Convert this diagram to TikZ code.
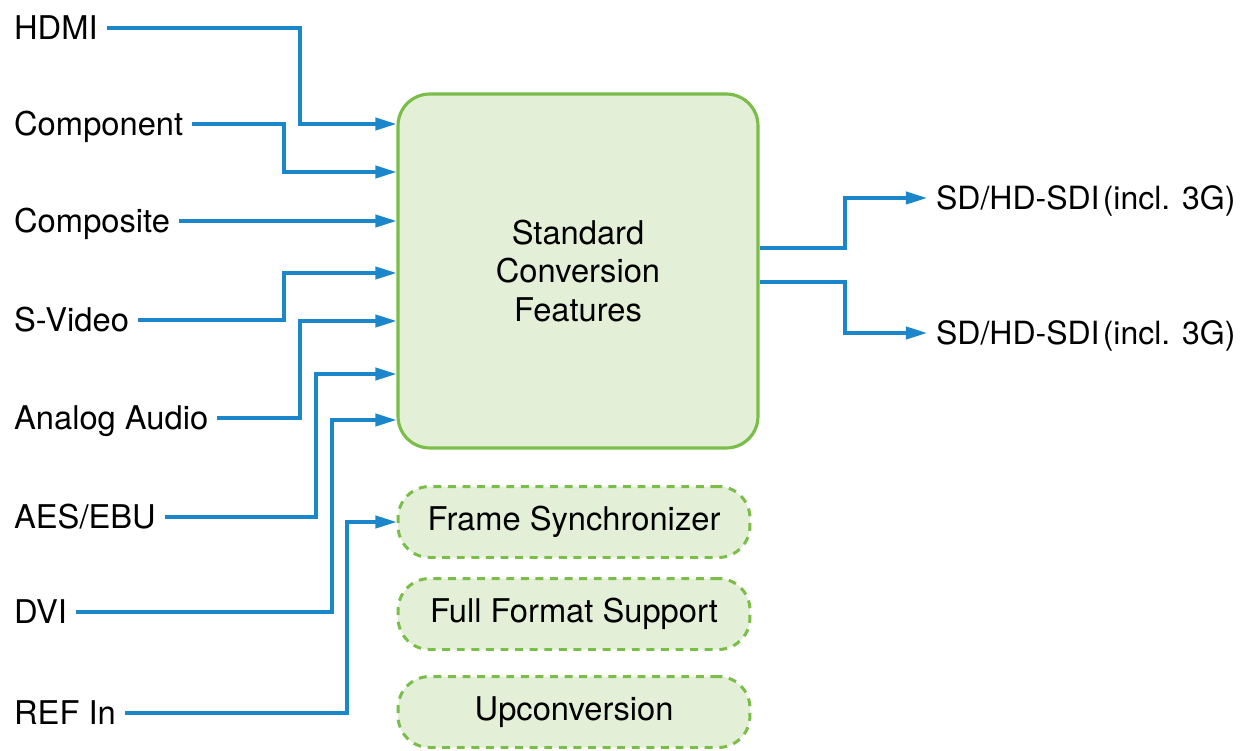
\documentclass[tikz,border=0pt]{standalone}
\usepackage{fontspec}
\setmainfont{TeX Gyre Heros}
\usetikzlibrary{arrows.meta}
\definecolor{sigblue}{RGB}{28,134,202}
\definecolor{boxgreen}{RGB}{122,189,72}
\definecolor{boxfill}{RGB}{227,240,215}
\tikzset{every picture/.style={x=0.02cm, y=-0.02cm}}
\tikzset{
  lbl/.style={anchor=west, font=\fontsize{18.6}{22}\selectfont, inner xsep=5pt, inner ysep=0pt, text height=13.3pt, text depth=0pt},
  sig/.style={draw=sigblue, line width=1.8pt, -{Triangle[length=12pt,width=7pt]}},
  mainbox/.style={draw=boxgreen, fill=boxfill, line width=1.8pt, rounded corners=18pt, minimum width=7.2cm, minimum height=7.08cm, align=center, font=\fontsize{18.6}{21.8}\selectfont},
  featbox/.style={draw=boxgreen, fill=boxfill, line width=1.7pt, dash pattern=on 4.5pt off 3.8pt, rounded corners=18pt, minimum width=7.04cm, minimum height=1.42cm, font=\fontsize{18.6}{22}\selectfont}
}

\begin{document}
\begin{tikzpicture}
  \useasboundingbox (0,0) rectangle (1243,750);

  % Boxes
  \node[mainbox] (box) at (578,271) {Standard\\Conversion\\Features};
  \node[featbox] (frame) at (574,522) {Frame Synchronizer};
  \node[featbox] (format) at (574,614) {Full Format Support};
  \node[featbox] (upconv) at (574,712) {Upconversion};

  % Inputs
  \node[lbl] (hdmi) at (5,28) {HDMI};
  \node[lbl] (comp) at (5,124) {Component};
  \node[lbl] (cvbs) at (5,221) {Composite};
  \node[lbl] (svideo) at (5,320) {S-Video};
  \node[lbl] (audio) at (5,418) {Analog Audio};
  \node[lbl] (aes) at (5,517) {AES/EBU};
  \node[lbl] (dvi) at (5,612) {DVI};
  \node[lbl] (ref) at (5,713) {REF In};

  \draw[sig] (hdmi.east) -- (300,28) |- (box.west |- 0,124);
  \draw[sig] (comp.east) -- (284,124) |- (box.west |- 0,172);
  \draw[sig] (cvbs.east) -- (box.west |- cvbs.east);
  \draw[sig] (svideo.east) -- (284,320) |- (box.west |- 0,273);
  \draw[sig] (audio.east) -- (300,418) |- (box.west |- 0,321);
  \draw[sig] (aes.east) -- (316,517) |- (box.west |- 0,374);
  \draw[sig] (dvi.east) -- (332,612) |- (box.west |- 0,420);
  \draw[sig] (ref.east) -- (347,713) |- (frame.west);

  % Outputs
  \node[lbl, font=\fontsize{18.2}{22}\selectfont] (sdi1) at (927,198) {SD/HD-SDI\hspace{0.1em}(incl. 3G)};
  \node[lbl, font=\fontsize{18.2}{22}\selectfont] (sdi2) at (927,333) {SD/HD-SDI\hspace{0.1em}(incl. 3G)};

  \draw[sig] (box.east |- 0,248) -- (845,248) |- (sdi1.west);
  \draw[sig] (box.east |- 0,282) -- (845,282) |- (sdi2.west);
\end{tikzpicture}
\end{document}
